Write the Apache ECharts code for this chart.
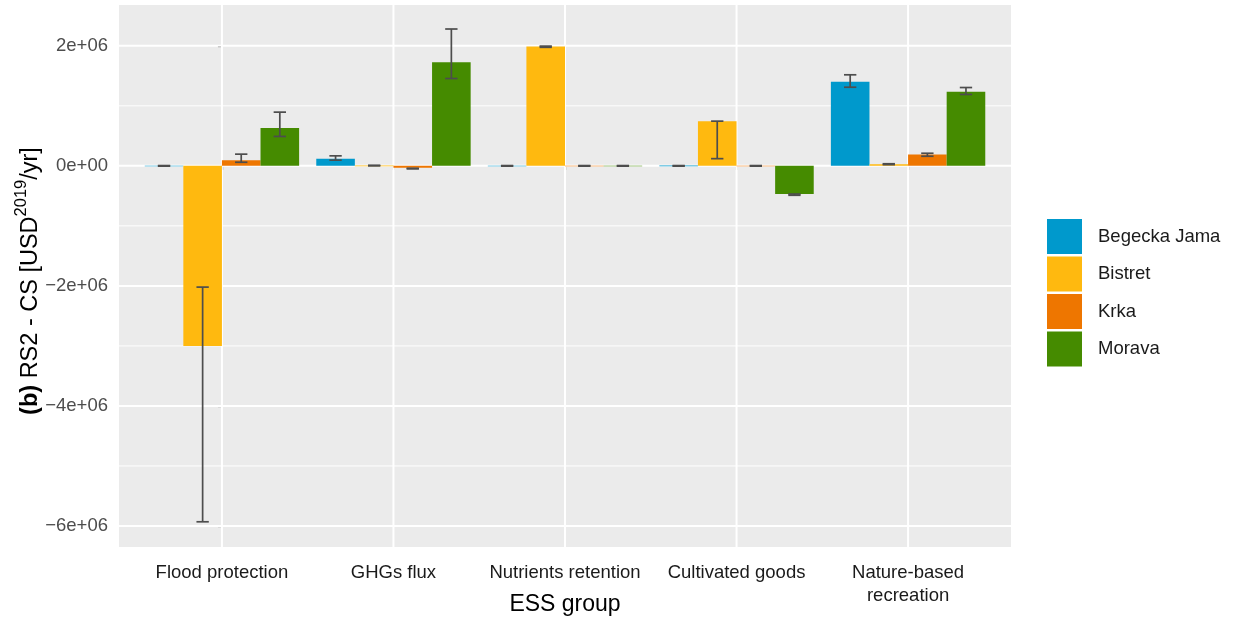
<!DOCTYPE html>
<html>
<head>
<meta charset="utf-8">
<script src="https://cdn.jsdelivr.net/npm/echarts@6/dist/echarts.min.js"></script>
<style>
  html, body { margin: 0; padding: 0; background: #ffffff; }
  #chart { width: 1235px; height: 621px; }
</style>
</head>
<body>
<div id="chart"></div>
<script>
// ESS groups along the x axis
const categories = ['Flood protection', 'GHGs flux', 'Nutrients retention', 'Cultivated goods', 'Nature-based\nrecreation'];

// Case-study sites (legend order)
const sites = ['Begecka Jama', 'Bistret', 'Krka', 'Morava'];
const siteColors = ['#0099CC', '#FFB90F', '#EE7600', '#458B00'];

// RS2 - CS differences (USD 2019 / yr): mean and error-bar ends per ESS group
const begeckaMean = [3000, 117000, 2000, 4000, 1400000];
const begeckaLow  = [-5000, 95000, -5000, -5000, 1310000];
const begeckaHigh = [5000, 167000, 5000, 5000, 1517000];

const bistretMean = [-3000000, 5000, 1990000, 745000, 28000];
const bistretLow  = [-5930000, 0, 1975000, 120000, 20000];
const bistretHigh = [-2020000, 10000, 1995000, 745000, 35000];

const krkaMean = [95000, -30000, 2000, 3000, 190000];
const krkaLow  = [60000, -50000, -5000, -5000, 160000];
const krkaHigh = [195000, -40000, 5000, 5000, 210000];

const moravaMean = [630000, 1728000, 2000, -470000, 1233000];
const moravaLow  = [490000, 1455000, -5000, -490000, 1190000];
const moravaHigh = [895000, 2280000, 5000, -470000, 1305000];

// y-axis ticks
const yTickValues = [-6000000, -4000000, -2000000, 0, 2000000];
const yTickLabels = ['\u22126e+06', '\u22124e+06', '\u22122e+06', '0e+00', '2e+06'];
const yMinorValues = [-5000000, -3000000, -1000000, 1000000];

const siteMeans = [begeckaMean, bistretMean, krkaMean, moravaMean];
const siteLows  = [begeckaLow, bistretLow, krkaLow, moravaLow];
const siteHighs = [begeckaHigh, bistretHigh, krkaHigh, moravaHigh];

const X_MIN = -0.6, X_MAX = 4.6;
const Y_MIN = -6350000, Y_MAX = 2680000;
const GROUP_WIDTH = 0.9;
const BAR_WIDTH = GROUP_WIDTH / sites.length;
const ERR_WIDTH = 0.072;
const FONT = '"Liberation Sans", Arial, Helvetica, sans-serif';
const catIndex = categories.map((c, i) => i);

function barCenter(cat, s) {
  return cat - GROUP_WIDTH / 2 + BAR_WIDTH * (s + 0.5);
}

// panel grid lines (major, minor, vertical at category centres)
const gridLineData = []
  .concat(yTickValues.map(v => ['h', v, 'major']))
  .concat(yMinorValues.map(v => ['h', v, 'minor']))
  .concat(catIndex.map(v => ['v', v, 'major']));

const gridSeries = {
  type: 'custom',
  name: 'grid',
  silent: true,
  z: 1,
  data: gridLineData,
  encode: { x: 1, y: 1 },
  renderItem: function (params, api) {
    const item = gridLineData[params.dataIndex];
    const val = item[1];
    let a, b;
    if (item[0] === 'h') {
      a = api.coord([X_MIN, val]);
      b = api.coord([X_MAX, val]);
    } else {
      a = api.coord([val, Y_MIN]);
      b = api.coord([val, Y_MAX]);
    }
    return {
      type: 'line',
      shape: { x1: a[0], y1: a[1], x2: b[0], y2: b[1] },
      style: { stroke: '#ffffff', lineWidth: item[2] === 'major' ? 2 : 1 }
    };
  }
};

const barSeries = sites.map((site, s) => ({
  type: 'custom',
  name: site,
  z: 2,
  itemStyle: { color: siteColors[s] },
  data: siteMeans[s].map((v, i) => [i, v]),
  encode: { x: 0, y: 1 },
  renderItem: function (params, api) {
    const cat = api.value(0);
    const v = api.value(1);
    const cx = barCenter(cat, s);
    const p0 = api.coord([cx - BAR_WIDTH / 2, 0]);
    const p1 = api.coord([cx + BAR_WIDTH / 2, v]);
    const y = Math.min(p0[1], p1[1]);
    const h = Math.max(Math.abs(p1[1] - p0[1]), 0.6);
    return {
      type: 'rect',
      shape: { x: p0[0], y: y, width: p1[0] - p0[0], height: h },
      style: { fill: siteColors[s] }
    };
  }
}));

// error bars drawn on top of every bar
const errorData = [];
sites.forEach((site, s) => {
  catIndex.forEach(i => {
    errorData.push([i, s, siteLows[s][i], siteHighs[s][i]]);
  });
});

const errorSeries = {
  type: 'custom',
  name: 'error',
  silent: true,
  z: 3,
  data: errorData,
  encode: { x: 0, y: 2 },
  renderItem: function (params, api) {
    const cat = api.value(0);
    const s = api.value(1);
    const lo = api.value(2);
    const hi = api.value(3);
    const cx = barCenter(cat, s);
    const top = api.coord([cx, hi]);
    const bot = api.coord([cx, lo]);
    const left = api.coord([cx - ERR_WIDTH / 2, 0])[0];
    const right = api.coord([cx + ERR_WIDTH / 2, 0])[0];
    const st = { stroke: '#4D4D4D', lineWidth: 1.7 };
    return {
      type: 'group',
      children: [
        { type: 'line', shape: { x1: top[0], y1: top[1], x2: bot[0], y2: bot[1] }, style: st },
        { type: 'line', shape: { x1: left, y1: top[1], x2: right, y2: top[1] }, style: st },
        { type: 'line', shape: { x1: left, y1: bot[1], x2: right, y2: bot[1] }, style: st }
      ]
    };
  }
};

const chart = echarts.init(document.getElementById('chart'), null, { renderer: 'canvas' });

chart.setOption({
  animation: false,
  backgroundColor: '#ffffff',
  textStyle: { fontFamily: FONT },
  grid: {
    left: 119, right: 224, top: 5, bottom: 74,
    outerBoundsMode: 'none',
    containLabel: false,
    show: true, backgroundColor: '#EBEBEB', borderWidth: 0
  },
  legend: {
    data: sites,
    orient: 'vertical',
    left: 1047,
    top: 219,
    padding: 0,
    itemWidth: 35,
    itemHeight: 35,
    itemGap: 2.5,
    icon: 'rect',
    selectedMode: false,
    textStyle: { fontFamily: FONT, fontSize: 18.5, color: '#1A1A1A', padding: [0, 0, 0, 11] }
  },
  xAxis: {
    type: 'value',
    min: X_MIN,
    max: X_MAX,
    name: 'ESS group',
    nameLocation: 'middle',
    nameGap: 46,
    nameMoveOverlap: false,
    nameTextStyle: { fontFamily: FONT, fontSize: 23, color: '#000000' },
    axisLine: { show: false },
    splitLine: { show: false },
    axisTick: { show: true, length: 4, customValues: catIndex, lineStyle: { color: '#333333', width: 1.2 } },
    axisLabel: {
      customValues: catIndex,
      margin: 14,
      fontFamily: FONT,
      fontSize: 18.5,
      lineHeight: 23,
      color: '#1A1A1A',
      formatter: v => categories[Math.round(v)]
    }
  },
  yAxis: {
    type: 'value',
    min: Y_MIN,
    max: Y_MAX,
    name: '{b|(b)} {n|RS2 - CS [USD}{s|2019}{n|/yr]}',
    nameLocation: 'middle',
    nameRotate: 90,
    nameGap: 76,
    nameMoveOverlap: false,
    nameTextStyle: {
      fontFamily: FONT,
      fontSize: 23.5,
      color: '#000000',
      padding: [0, 10, 0, 0],
      rich: {
        b: { fontFamily: FONT, fontSize: 23.5, fontWeight: 'bold', color: '#000000', lineHeight: 30, verticalAlign: 'bottom' },
        n: { fontFamily: FONT, fontSize: 23.5, color: '#000000', lineHeight: 30, verticalAlign: 'bottom' },
        s: { fontFamily: FONT, fontSize: 16.5, color: '#000000', lineHeight: 30, verticalAlign: 'top' }
      }
    },
    axisLine: { show: false },
    splitLine: { show: false },
    axisTick: { show: true, length: 4, customValues: yTickValues, lineStyle: { color: '#333333', width: 1.2 } },
    axisLabel: {
      customValues: yTickValues,
      margin: 11,
      fontFamily: FONT,
      fontSize: 18.5,
      color: '#4D4D4D',
      formatter: v => {
        const k = yTickValues.indexOf(v);
        return k >= 0 ? yTickLabels[k] : '';
      }
    }
  },
  series: [gridSeries].concat(barSeries, [errorSeries])
});
</script>
</body>
</html>
